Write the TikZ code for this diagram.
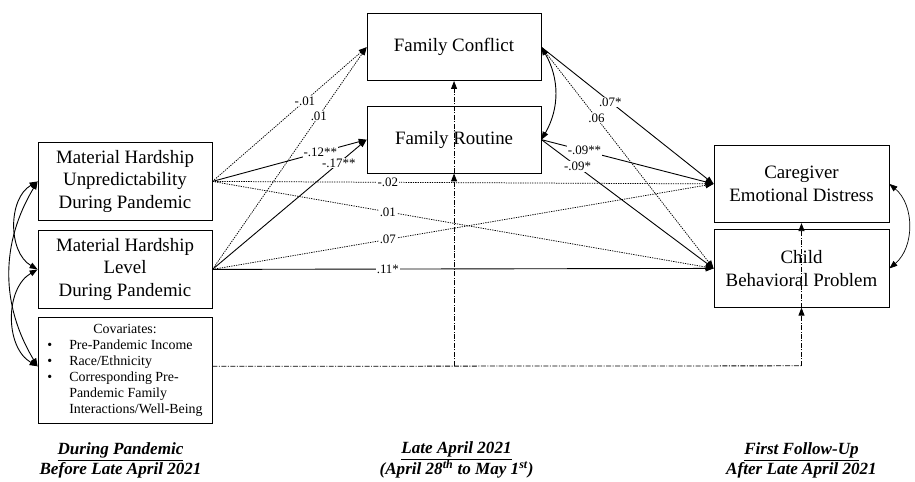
\documentclass[tikz,border=0pt]{standalone}
\usepackage{fontspec}
\setmainfont{Liberation Serif}
\usetikzlibrary{arrows.meta}
\begin{document}
\begin{tikzpicture}[x=1pt,y=-1pt]
    \tikzstyle{box}=[draw, line width=0.9pt, minimum width=175pt, align=center, font=\fontsize{19}{23}\selectfont]
    \tikzstyle{coef}=[fill=white, inner sep=1pt, font=\fontsize{13}{15}\selectfont]
    \tikzstyle{headone}=[-{Triangle[length=8pt,width=6pt]}]
    \tikzstyle{headtwo}=[{Triangle[length=8pt,width=6pt]}-{Triangle[length=8pt,width=6pt]}]
    \tikzstyle{ns}=[dash pattern=on 1.3pt off 1.1pt, line width=0.75pt]
    \tikzstyle{sig}=[line width=0.9pt]
    \tikzstyle{covline}=[dash pattern=on 5pt off 1.5pt on 1pt off 1.5pt, line width=0.8pt]
    \tikzstyle{period}=[align=center, font=\fontsize{17.2}{19.5}\selectfont\bfseries\itshape]
    \fill[white] (0,0) rectangle (915,479);
    % boxes
    \node[box, minimum height=79pt] (mhu) at (125.5,182.5) {Material Hardship\\Unpredictability\\During Pandemic};
    \node[box, minimum height=79pt] (mhl) at (125.5,271) {Material Hardship\\Level\\During Pandemic};
    \node[box, minimum height=107pt, font=\fontsize{14}{16.2}\selectfont] (cov) at (125.5,372.5) {\begin{tabular}{@{}p{22pt}@{}l@{}}
        \multicolumn{2}{c}{Covariates:}\\
        \textbullet & Pre-Pandemic Income\\
        \textbullet & Race/Ethnicity\\
        \textbullet & Corresponding Pre-\\
        & Pandemic Family\\
        & Interactions/Well-Being
    \end{tabular}};
    \node[box, minimum height=67pt] (fc) at (456.5,47.5) {Family Conflict};
    \node[box, minimum height=67pt] (fr) at (456.5,140.5) {Family Routine};
    \node[box, minimum width=176pt, minimum height=78pt] (cg) at (806,185) {Caregiver\\Emotional Distress};
    \node[box, minimum width=176pt, minimum height=78pt] (cb) at (806,270) {Child\\Behavioral Problem};
    % time points
    \node[period] (t1) at (121,463) {\underline{During Pandemic}\\Before Late April 2021};
    \node[period] (t2) at (459,463) {\underline{Late April 2021}\\(April 28\textsuperscript{th} to May 1\textsuperscript{st})};
    \node[period] (t3) at (806,463) {\underline{First Follow-Up}\\After Late April 2021};
    % paths to family interactions
    \draw[ns, headone] (mhu.east) -- node[coef, pos=0.6] {-.01} (fc.west);
    \draw[ns, headone] (mhl.east) -- node[coef, pos=0.69] {.01} (fc.west);
    \draw[sig, headone] (mhu.east) -- node[coef, pos=0.7] {-.12**} (fr.west);
    \draw[sig, headone] (mhl.east) -- node[coef, pos=0.82] {-.17**} (fr.west);
    % direct paths
    \draw[ns, headone] (mhu.east) -- node[coef, pos=0.35] {-.02} (cg.west);
    \draw[ns, headone] (mhu.east) -- node[coef, pos=0.35] {.01} (cb.west);
    \draw[ns, headone] (mhl.east) -- node[coef, pos=0.35] {.07} (cg.west);
    \draw[sig, headone] (mhl.east) -- node[coef, pos=0.35] {.11*} (cb.west);
    % paths to outcomes
    \draw[sig, headone] (fc.east) -- node[coef, pos=0.4] {.07*} (cg.west);
    \draw[ns, headone] (fc.east) -- node[coef, pos=0.32] {.06} (cb.west);
    \draw[sig, headone] (fr.east) -- node[coef, pos=0.25] {-.09**} (cg.west);
    \draw[sig, headone] (fr.east) -- node[coef, pos=0.21] {-.09*} (cb.west);
    % covariances
    \draw[sig, headtwo] (fc.east) to[bend left=30] (fr.east);
    \draw[line width=0.7pt, headtwo] (cg.east) to[bend left=50] (cb.east);
    \draw[sig, headtwo] (mhu.west) to[bend right=60] (mhl.west);
    \draw[sig, headtwo] (mhu.west) to[bend right=31] ([yshift=4pt]cov.west);
    \draw[sig, headtwo] (mhl.west) to[bend right=60] ([yshift=4pt]cov.west);
    % covariates
    \coordinate (c1) at (456.5,368);
    \coordinate (c2) at (806,368);
    \draw[covline] ([yshift=4pt]cov.east) -- (c2);
    \draw[covline, headone] (c2) -- (cb.south);
    \draw[covline, headone] (cb.south) -- (cg.south);
    \draw[covline, headone] (c1) -- (fr.south);
    \draw[covline, headone] (fr.south) -- (fc.south);
\end{tikzpicture}
\end{document}
